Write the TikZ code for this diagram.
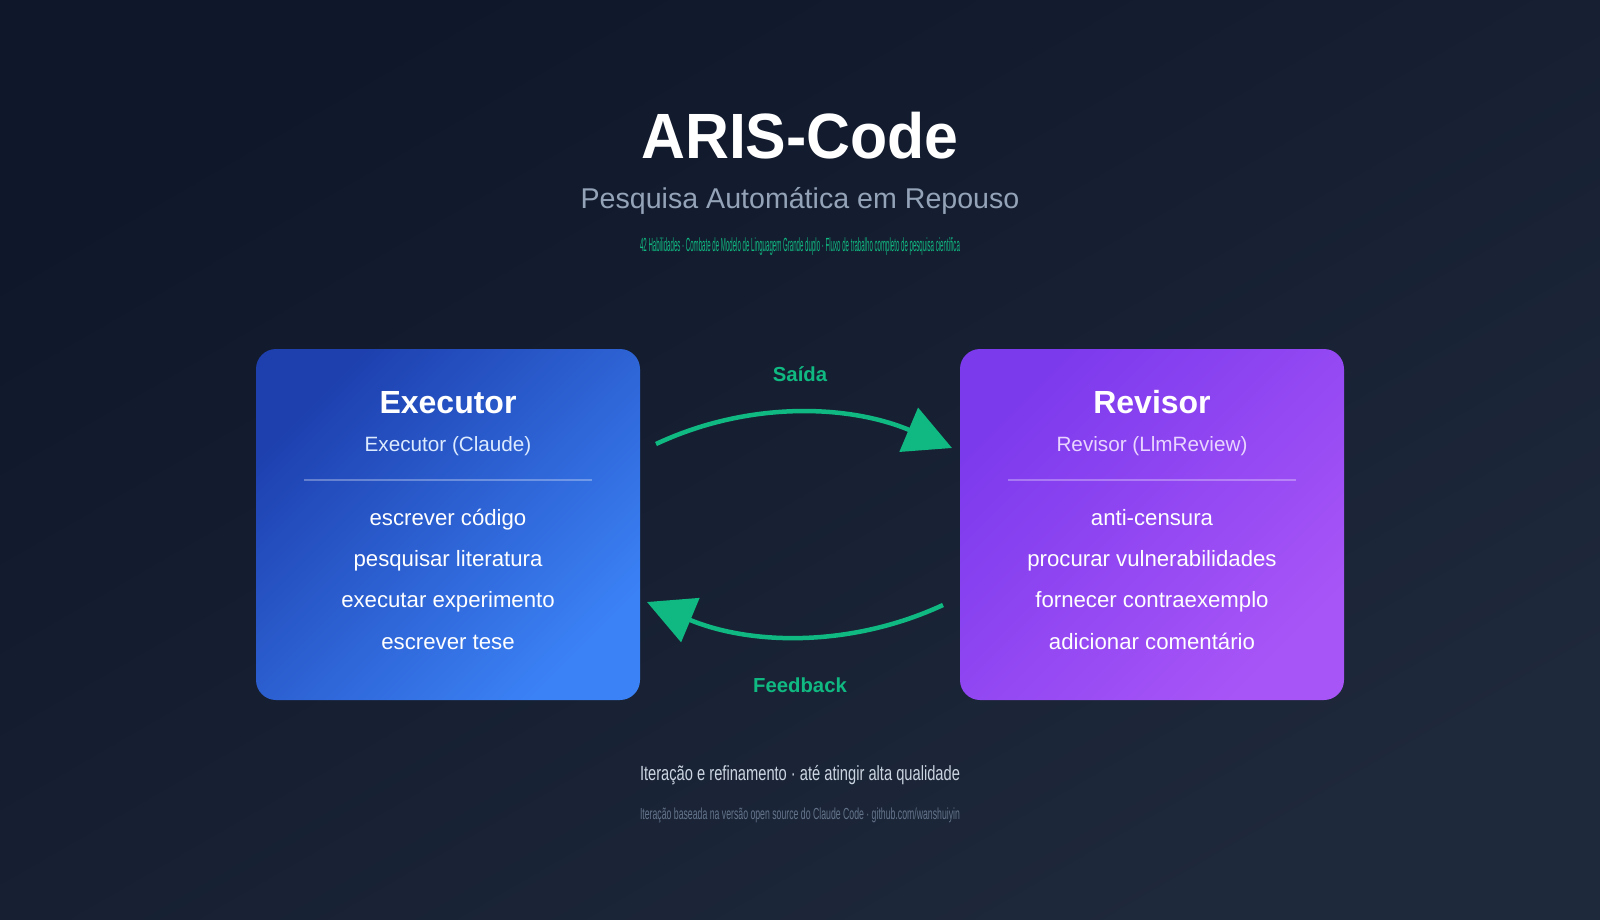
\documentclass[tikz,border=0pt]{standalone}
\usepackage{fontspec}
\setmainfont{Liberation Sans}
\usetikzlibrary{arrows.meta}
\definecolor{bgA}{HTML}{0F172A}
\definecolor{bgB}{HTML}{1E293B}
\definecolor{blueA}{HTML}{1E40AF}
\definecolor{blueB}{HTML}{3B82F6}
\definecolor{purA}{HTML}{7C3AED}
\definecolor{purB}{HTML}{A855F7}
\definecolor{subgray}{HTML}{94A3B8}
\definecolor{accent}{HTML}{10B981}
\definecolor{footA}{HTML}{CBD5E1}
\definecolor{footB}{HTML}{64748B}
\definecolor{blueSub}{HTML}{DBEAFE}
\definecolor{purSub}{HTML}{E9D5FF}
\newcommand{\fs}[1]{\fontsize{#1}{#1}\selectfont}
\tikzset{
  card/.style={rounded corners=20pt, minimum width=384pt, minimum height=351pt, inner sep=0pt, draw=none},
  cardtitle/.style={anchor=base, text=white, font=\fs{32}\bfseries, inner sep=0pt},
  cardsub/.style={anchor=base, font=\fs{20.7}, inner sep=0pt},
  item/.style={anchor=base, text=white, font=\fs{22.2}, inner sep=0pt},
  flow/.style={draw=accent, line width=4.5pt, -{Triangle[length=47pt,width=47pt]}},
  flowlabel/.style={anchor=base, text=accent, font=\fs{20.3}\bfseries, inner sep=0pt},
  divider/.style={draw=white, draw opacity=0.3, line width=1.5pt}
}
\begin{document}
\begin{tikzpicture}[x=1pt,y=-1pt]
\fill[top color=bgA, bottom color=bgB, shading angle=30] (0,0) rectangle (1600,920);
\useasboundingbox (0,0) rectangle (1600,920);

% header
\node[anchor=base, text=white, inner sep=0pt, font=\fs{64}\bfseries] (title) at (800,159) {\scalebox{0.95}[1]{ARIS-Code}};
\node[anchor=base, text=subgray, inner sep=0pt, font=\fs{28.6}] (subtitle) at (800,208) {Pesquisa Automática em Repouso};
\node[anchor=base, text=accent, inner sep=0pt, font=\fs{19}] (tagline) at (800,251) {\resizebox{320pt}{\height}{42 Habilidades · Combate de Modelo de Linguagem Grande duplo · Fluxo de trabalho completo de pesquisa científica}};

% cards
\node[card, top color=blueA, bottom color=blueB, shading angle=45] (exec) at (448,524.5) {};
\node[card, top color=purA, bottom color=purB, shading angle=45] (rev) at (1152,524.5) {};

\node[cardtitle] (execT) at (448,413) {Executor};
\node[cardsub, text=blueSub] (execS) at (448,451) {Executor (Claude)};
\draw[divider] (304,480) coordinate (execD1) -- (592,480) coordinate (execD2);
\node[item] (e1) at (448,525) {escrever código};
\node[item] (e2) at (448,566) {pesquisar literatura};
\node[item] (e3) at (448,607.5) {executar experimento};
\node[item] (e4) at (448,649) {escrever tese};

\node[cardtitle] (revT) at (1152,413) {Revisor};
\node[cardsub, text=purSub] (revS) at (1152,451) {Revisor (LlmReview)};
\draw[divider] (1008,480) coordinate (revD1) -- (1296,480) coordinate (revD2);
\node[item] (r1) at (1152,525) {anti-censura};
\node[item] (r2) at (1152,566) {procurar vulnerabilidades};
\node[item] (r3) at (1152,607.5) {fornecer contraexemplo};
\node[item] (r4) at (1152,649) {adicionar comentário};

% connectors
\coordinate (outS) at (656,444);
\coordinate (outE) at (952,448);
\coordinate (fbS) at (943,605);
\coordinate (fbE) at (647,602);
\draw[flow] (outS) .. controls (750,400) and (850,405) .. (outE);
\draw[flow] (fbS) .. controls (850,648) and (750,645) .. (fbE);
\node[flowlabel] (outL) at (800,381) {Saída};
\node[flowlabel] (fbL) at (800,692) {Feedback};

% footer
\node[anchor=base, text=footA, inner sep=0pt, font=\fs{20.5}] (foot1) at (800,780) {\resizebox{320pt}{\height}{Iteração e refinamento · até atingir alta qualidade}};
\node[anchor=base, text=footB, inner sep=0pt, font=\fs{16}] (foot2) at (800,819) {\resizebox{320pt}{\height}{Iteração baseada na versão open source do Claude Code · github.com/wanshuiyin}};
\end{tikzpicture}
\end{document}
